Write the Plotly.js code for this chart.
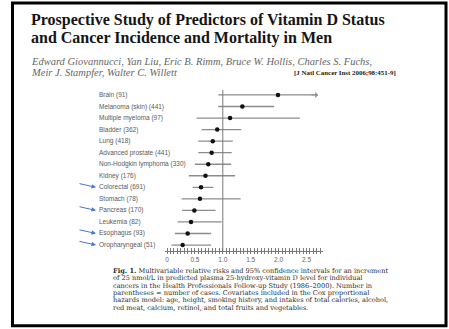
<!DOCTYPE html>
<html>
<head>
<meta charset="utf-8">
<script src="https://cdn.plot.ly/plotly-3.0.1.min.js"></script>
<style>html,body{margin:0;padding:0;background:#fff;}#chart{width:449px;height:329px;}</style>
</head>
<body>
<div id="chart"></div>
<script>
// ---- data ----
const categories = ["Brain (91)", "Melanoma (skin) (441)", "Multiple myeloma (97)", "Bladder (362)", "Lung (418)",
  "Advanced prostate (441)", "Non-Hodgkin lymphoma (330)", "Kidney (176)", "Colorectal (691)", "Stomach (78)",
  "Pancreas (170)", "Leukemia (82)", "Esophagus (93)", "Oropharyngeal (51)"];
const relativeRisk = [1.99, 1.35, 1.13, 0.90, 0.82, 0.80, 0.74, 0.69, 0.61, 0.59, 0.49, 0.43, 0.37, 0.28];
const ciLower      = [0.92, 0.92, 0.53, 0.62, 0.56, 0.56, 0.50, 0.39, 0.46, 0.26, 0.27, 0.19, 0.14, 0.08];
const ciUpper      = [2.65, 1.92, 2.38, 1.33, 1.18, 1.16, 1.15, 1.22, 0.83, 1.32, 0.87, 0.98, 0.79, 0.79];
const truncatedUpper = ["Brain (91)"];
const highlighted  = ["Colorectal (691)", "Pancreas (170)", "Esophagus (93)", "Oropharyngeal (51)"];
const tickValues = [0, 0.5, 1, 1.5, 2, 2.5];
const tickLabels = ["0", "0.5", "1.0", "1.5", "2.0", "2.5"];
const referenceValue = 1;

const titleLines = ["Prospective Study of Predictors of Vitamin D Status",
  "and Cancer Incidence and Mortality in Men"];
const authorLines = ["Edward Giovannucci, Yan Liu, Eric B. Rimm, Bruce W. Hollis, Charles S. Fuchs,",
  "Meir J. Stampfer, Walter C. Willett"];
const citation = "[J Natl Cancer Inst 2006;98:451-9]";
const captionLines = [
  "<b>Fig. 1.</b> Multivariable relative risks and 95% confidence intervals for an increment",
  "of 25 nmol/L in predicted plasma 25-hydroxy-vitamin D level for individual",
  "cancers in the Health Professionals Follow-up Study (1986–2000). Number in",
  "parentheses = number of cases. Covariates included in the Cox proportional",
  "hazards model: age, height, smoking history, and intakes of total calories, alcohol,",
  "red meat, calcium, retinol, and total fruits and vegetables."];

// ---- layout helpers (pixel -> paper) ----
const W = 449, H = 329;
const px = x => x / W;
const py = y => 1 - y / H;
const rows = categories.map((c, i) => i);
const ciColor = '#8c8c8c';
const axisColor = '#7a7a7a';

const traces = [{
  type: 'scatter', mode: 'markers',
  x: relativeRisk, y: rows, xaxis: 'x', yaxis: 'y',
  marker: {color: '#111', size: 4.5},
  error_x: {type: 'data', symmetric: false,
    array: ciUpper.map((u, i) => u - relativeRisk[i]),
    arrayminus: ciLower.map((l, i) => relativeRisk[i] - l),
    color: ciColor, thickness: 1.3, width: 0},
  hoverinfo: 'skip'
}, {
  type: 'scatter', mode: 'none', x: relativeRisk, y: rows, xaxis: 'x2', yaxis: 'y', hoverinfo: 'skip'
}];

const annotations = [];
titleLines.forEach((t, i) => annotations.push({
  xref: 'paper', yref: 'paper', x: px(28.5), y: py(20 + i * 18), xanchor: 'left', yanchor: 'middle',
  showarrow: false, text: '<b>' + t + '</b>',
  font: {family: 'Liberation Serif', size: 16, color: '#151515'}
}));
authorLines.forEach((t, i) => annotations.push({
  xref: 'paper', yref: 'paper', x: px(29), y: py(61 + i * 11.2), xanchor: 'left', yanchor: 'middle',
  showarrow: false, text: '<i>' + t + '</i>',
  font: {family: 'Liberation Serif', size: 10.5, color: '#666'}
}));
annotations.push({
  xref: 'paper', yref: 'paper', x: px(398), y: py(72.2), xanchor: 'right', yanchor: 'middle',
  showarrow: false, text: '<b>' + citation + '</b>',
  font: {family: 'Liberation Serif', size: 6.9, color: '#222'}
});
categories.forEach((c, i) => annotations.push({
  xref: 'paper', yref: 'y', x: px(97), y: i, xanchor: 'left', yanchor: 'middle',
  showarrow: false, text: c,
  font: {family: 'Liberation Sans', size: 6.5, color: '#5a5a5a'}
}));
highlighted.forEach(c => annotations.push({
  xref: 'paper', yref: 'y', x: px(96), y: categories.indexOf(c), ax: -18, ay: -4,
  showarrow: true, text: '', arrowhead: 2, arrowsize: 0.9, arrowwidth: 1, arrowcolor: '#4a78c8'
}));
truncatedUpper.forEach(c => annotations.push({
  xref: 'x', yref: 'y', x: ciUpper[categories.indexOf(c)] + 0.06, y: categories.indexOf(c), ax: -8, ay: 0,
  showarrow: true, text: '', arrowhead: 1, arrowsize: 1, arrowwidth: 1, arrowcolor: ciColor
}));
captionLines.forEach((t, i) => annotations.push({
  xref: 'paper', yref: 'paper', x: px(110.5), y: py(271 + i * 7.35), xanchor: 'left', yanchor: 'middle',
  showarrow: false, text: t,
  font: {family: 'DejaVu Serif', size: 6.6, color: '#2a2a2a'}
}));

const xCommon = {
  domain: [px(165), px(323)], range: [-0.036, 2.796], anchor: 'y',
  tickvals: tickValues, ticktext: tickLabels,
  showgrid: false, zeroline: false, fixedrange: true
};

const layout = {
  width: W, height: H, margin: {l: 0, r: 0, t: 0, b: 0},
  paper_bgcolor: '#fff', plot_bgcolor: 'rgba(0,0,0,0)', showlegend: false,
  xaxis: Object.assign({}, xCommon, {
    ticks: 'outside', ticklen: 2.5, tickcolor: axisColor, tickwidth: 1,
    showline: true, linecolor: axisColor, linewidth: 1,
    minor: {dtick: 0.0625, tick0: 0, ticks: 'outside', ticklen: 2.5, tickcolor: axisColor},
    tickfont: {family: 'Liberation Sans', size: 6.5, color: '#666'}
  }),
  xaxis2: Object.assign({}, xCommon, {
    overlaying: 'x', side: 'bottom', showticklabels: false, showline: false,
    ticks: 'inside', ticklen: 2.5, tickcolor: axisColor,
    minor: {dtick: 0.0625, tick0: 0, ticks: 'inside', ticklen: 2.5, tickcolor: axisColor}
  }),
  yaxis: {
    domain: [py(250.8), py(89.2)], range: [categories.length - 0.5, -0.5],
    showticklabels: false, showgrid: false, zeroline: false, showline: false, ticks: '', fixedrange: true
  },
  shapes: [{
    type: 'line', xref: 'x', yref: 'paper', x0: referenceValue, x1: referenceValue,
    y0: py(250.8), y1: py(90), line: {color: axisColor, width: 1}
  }, {
    type: 'rect', xref: 'paper', yref: 'paper', x0: px(12.5), x1: px(446), y0: py(325.8), y1: py(3),
    line: {color: '#000', width: 3}, fillcolor: 'rgba(0,0,0,0)'
  }],
  annotations: annotations
};

Plotly.newPlot('chart', traces, layout, {displayModeBar: false, staticPlot: true});
</script>
</body>
</html>
